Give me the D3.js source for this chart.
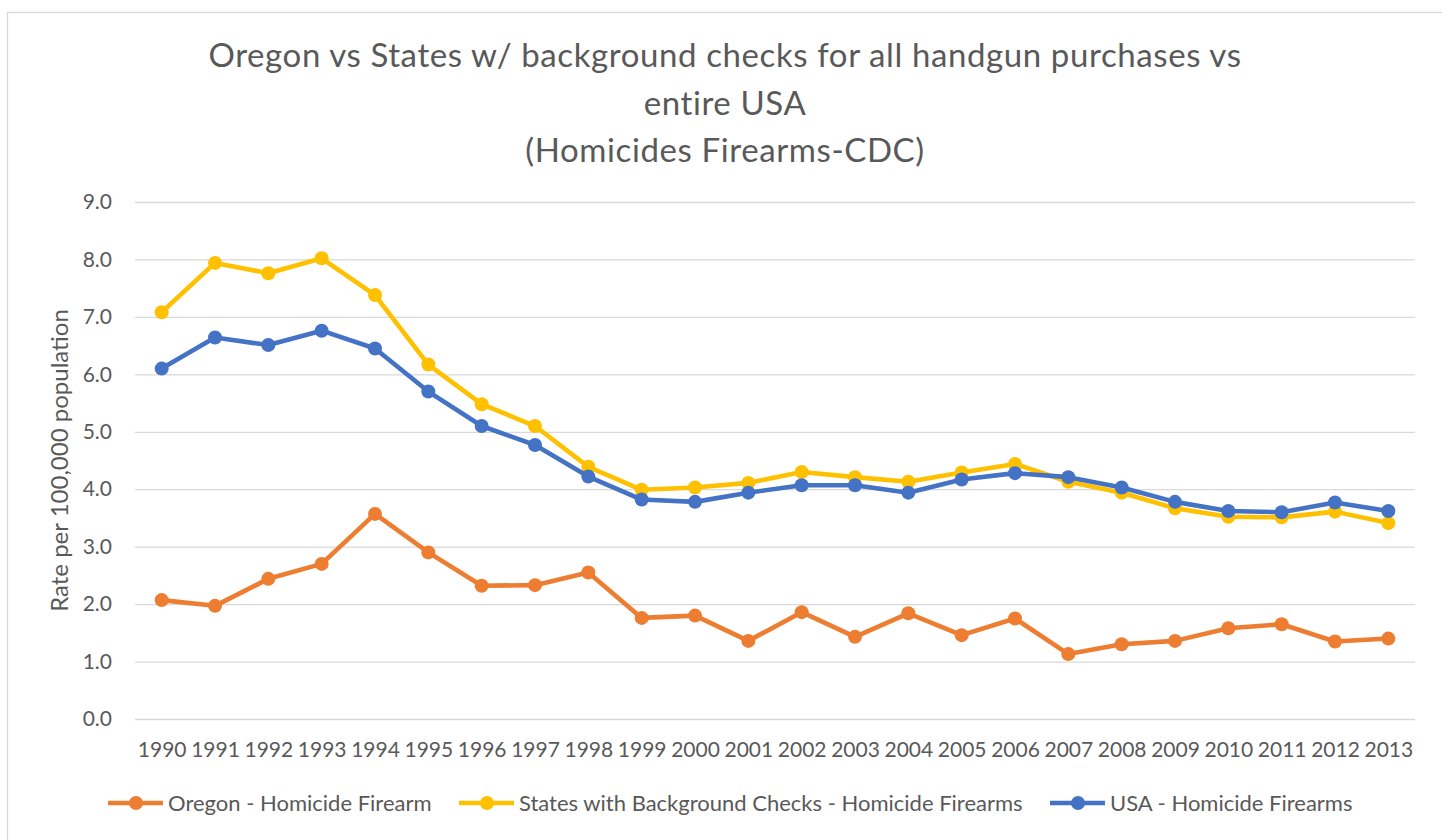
<!DOCTYPE html>
<html>
<head>
<meta charset="utf-8">
<script src="https://cdn.jsdelivr.net/npm/d3@7"></script>
<style>
  body { margin: 0; background: #fff; }
  svg { display: block; font-family: Lato, "Open Sans", sans-serif; }
  .axis text { fill: #595959; font-size: 21px; font-family: Lato, "Open Sans", sans-serif; }
  .grid line { stroke: #d9d9d9; stroke-width: 1.3; }
</style>
</head>
<body>
<div id="chart"></div>
<script>
// data
var years = ["1990","1991","1992","1993","1994","1995","1996","1997","1998","1999","2000","2001",
             "2002","2003","2004","2005","2006","2007","2008","2009","2010","2011","2012","2013"];
var oregon = [2.07,1.97,2.44,2.70,3.57,2.90,2.32,2.33,2.55,1.76,1.80,1.36,1.86,1.43,1.84,1.46,1.75,1.13,1.30,1.36,1.58,1.65,1.35,1.40];
var states = [7.08,7.94,7.76,8.02,7.38,6.17,5.48,5.10,4.39,3.99,4.03,4.11,4.30,4.21,4.13,4.29,4.44,4.13,3.94,3.67,3.52,3.51,3.61,3.41];
var usa = [6.10,6.64,6.51,6.76,6.45,5.70,5.10,4.77,4.22,3.82,3.78,3.94,4.07,4.07,3.94,4.17,4.28,4.21,4.03,3.78,3.62,3.60,3.77,3.62];
var seriesNames = ["Oregon - Homicide Firearm", "States with Background Checks - Homicide Firearms", "USA - Homicide Firearms"];
var yTicks = [0,1,2,3,4,5,6,7,8,9];
var titleLines = ["Oregon vs States w/ background checks for all handgun purchases vs", "entire USA", "(Homicides Firearms-CDC)"];
var yLabel = "Rate per 100,000 population";

var colors = ["#ED7D31", "#FFC000", "#4472C4"];
var series = [oregon, states, usa];

var W = 1442, H = 840;
var margin = { top: 202, right: 27, bottom: 121, left: 135 };
var width = W - margin.left - margin.right,
    height = H - margin.top - margin.bottom;

var svg = d3.select("#chart").append("svg")
  .attr("width", W)
  .attr("height", H);

// chart frame (runs off the right and bottom edges)
svg.append("rect")
  .attr("x", 7.5).attr("y", 12.5)
  .attr("width", W + 20).attr("height", H + 20)
  .attr("fill", "none")
  .attr("stroke", "#d9d9d9")
  .attr("stroke-width", 1.3);

// title
var titleBase = [67, 115, 162];
svg.append("text")
  .attr("text-anchor", "middle")
  .attr("fill", "#595959")
  .style("font-size", "33px")
  .style("letter-spacing", "0.6px")
  .selectAll("tspan")
  .data(titleLines)
  .enter()
  .append("tspan")
  .attr("x", 725)
  .attr("y", function(d, i) { return titleBase[i]; })
  .text(function(d) { return d; });

var g = svg.append("g")
  .attr("transform", "translate(" + margin.left + "," + margin.top + ")");

var x = d3.scalePoint()
  .domain(years)
  .range([0, width])
  .padding(0.5);
var y = d3.scaleLinear()
  .domain([0, 9])
  .range([height, 0]);

// gridlines + y labels
var yAxis = g.append("g")
  .attr("class", "axis grid")
  .call(d3.axisLeft(y)
    .tickValues(yTicks)
    .tickSize(-width)
    .tickPadding(23)
    .tickFormat(d3.format(".1f")));
yAxis.select(".domain").remove();

var xAxis = g.append("g")
  .attr("class", "axis")
  .attr("transform", "translate(0," + height + ")")
  .call(d3.axisBottom(x).tickSize(0).tickPadding(23));
xAxis.select(".domain").remove();

g.append("text")
  .attr("transform", "rotate(-90)")
  .attr("x", -height / 2)
  .attr("y", 60 - margin.left)
  .attr("dy", "0.35em")
  .attr("text-anchor", "middle")
  .attr("fill", "#595959")
  .style("font-size", "24px")
  .text(yLabel);

// lines + dots
var line = d3.line()
  .x(function(d, i) { return x(years[i]); })
  .y(function(d) { return y(d); });

series.forEach(function(s, k) {
  g.append("path")
    .datum(s)
    .attr("fill", "none")
    .attr("stroke", colors[k])
    .attr("stroke-width", 4.6)
    .attr("stroke-linejoin", "round")
    .attr("d", line);
  g.append("g")
    .selectAll("circle")
    .data(s)
    .enter()
    .append("circle")
    .attr("cx", function(d, i) { return x(years[i]); })
    .attr("cy", function(d) { return y(d); })
    .attr("r", 7)
    .attr("fill", colors[k]);
});

// legend
var legendX = [108, 459, 1050];
var leg = svg.append("g").attr("transform", "translate(0,803)");
seriesNames.forEach(function(name, k) {
  var item = leg.append("g").attr("transform", "translate(" + legendX[k] + ",0)");
  item.append("line")
    .attr("x1", 0).attr("x2", 55)
    .attr("stroke", colors[k])
    .attr("stroke-width", 4.6);
  item.append("circle")
    .attr("cx", 28).attr("r", 7)
    .attr("fill", colors[k]);
  item.append("text")
    .attr("x", 60)
    .attr("y", 7.5)
    .attr("fill", "#595959")
    .style("font-size", "22px")
    .text(name);
});
</script>
</body>
</html>
